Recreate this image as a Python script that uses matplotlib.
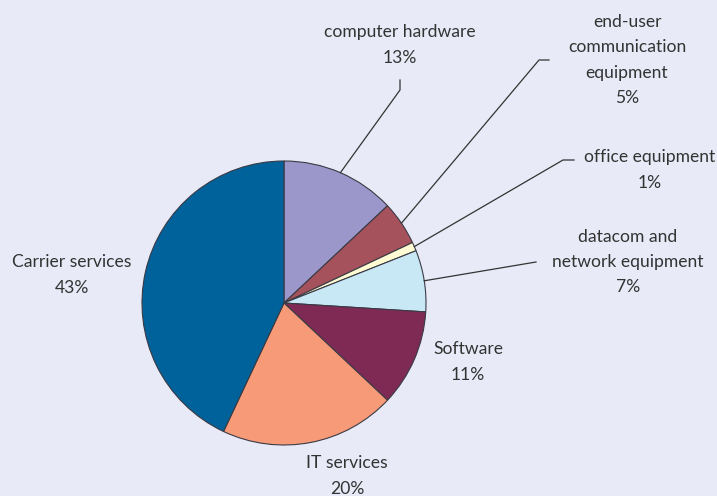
import numpy as np
import matplotlib
matplotlib.use('Agg')
from matplotlib import pyplot as plt

# spend shares, clockwise from 12 o'clock
labels = ['computer hardware', 'end-user\ncommunication\nequipment', 'office equipment',
          'datacom and\nnetwork equipment', 'Software', 'IT services', 'Carrier services']
shares = [13, 5, 1, 7, 11, 20, 43]
colors = ['#9b97ca', '#a6525d', '#fffbd2', '#c8e8f6', '#7f2a55', '#f79a78', '#00629b']

BG = '#e8ebf7'
TXT = '#333333'

W, H = 717, 496
fig = plt.figure(figsize=(W / 100, H / 100), dpi=100, facecolor=BG)
ax = fig.add_axes([0, 0, 1, 1])
ax.set_facecolor(BG)

cx, cy, r = 284, H - 303, 142
wedges, _ = ax.pie(shares, colors=colors, startangle=90, counterclock=False,
                   center=(cx, cy), radius=r, frame=True,
                   wedgeprops=dict(edgecolor='#3a3a44', linewidth=0.8))
ax.set_xlim(0, W)
ax.set_ylim(0, H)
ax.set_aspect('equal')
ax.axis('off')

# label centres (pixel coords, top-left origin) and leader elbows
label_pos = {
    0: (400, 45), 1: (627, 60), 2: (650, 170),
    3: (628, 262), 4: (468, 362), 5: (347, 476), 6: (72, 275),
}
leaders = {
    0: [(400, 90), (400, 80)],
    1: [(539, 60), (549, 60)],
    2: [(563, 160), (574, 160)],
    3: [(536, 262), (536, 262)],
}

for i, w in enumerate(wedges):
    txt = f'{labels[i]}\n{shares[i]}%'
    x, y = label_pos[i]
    ax.text(x, H - y, txt, ha='center', va='center', color=TXT,
            fontsize=12.6, family='Lato', linespacing=1.72)
    if i in leaders:
        ang = np.deg2rad((w.theta1 + w.theta2) / 2)
        px = [cx + r * np.cos(ang)] + [p[0] for p in leaders[i]]
        py = [cy + r * np.sin(ang)] + [H - p[1] for p in leaders[i]]
        ax.plot(px, py, color='#333333', lw=0.9)

fig.savefig('out.png', dpi=100, facecolor=BG)
